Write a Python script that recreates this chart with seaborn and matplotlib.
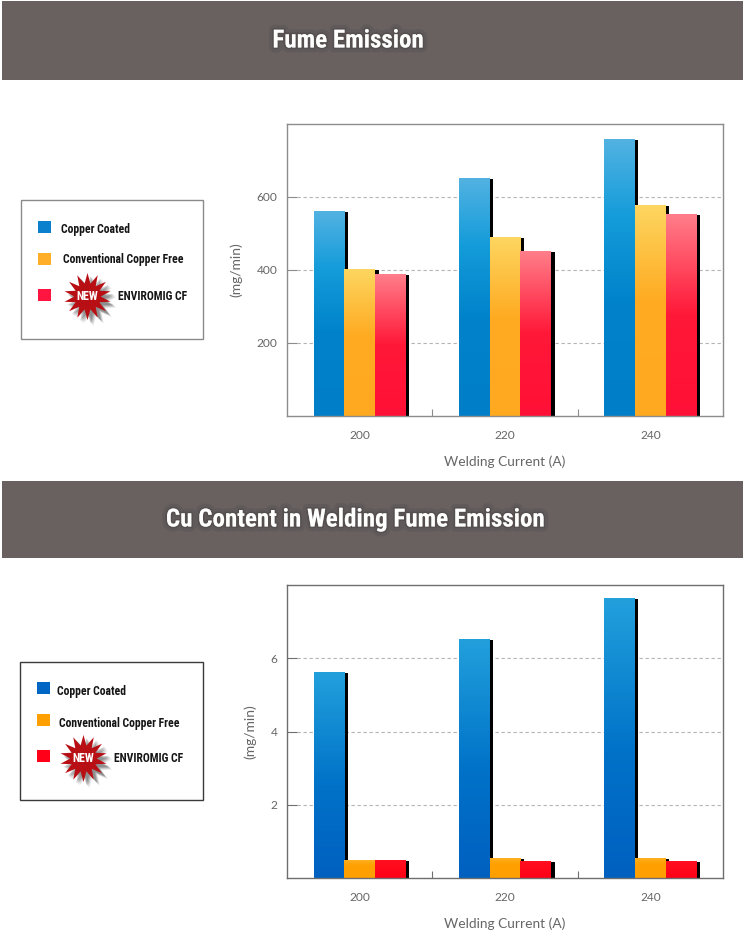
import numpy as np
import pandas as pd
import matplotlib
matplotlib.use("Agg")
import matplotlib.pyplot as plt
import matplotlib.patheffects as pe
from matplotlib.colors import LinearSegmentedColormap
from matplotlib.patches import Rectangle
from matplotlib.path import Path
import seaborn as sns

currents = ["200", "220", "240"]
series = ["Copper Coated", "Conventional Copper Free", "ENVIROMIG CF"]
fume_copper = [561, 650, 757]
fume_conventional = [402, 489, 577]
fume_enviromig = [387, 452, 553]
cu_copper = [5.62, 6.5, 7.62]
cu_conventional = [0.48, 0.52, 0.52]
cu_enviromig = [0.48, 0.46, 0.46]
fume_ticks = [200, 400, 600]
cu_ticks = [2, 4, 6]
titles = ["Fume Emission", "Cu Content in Welding Fume Emission"]

W, H = 745, 944
NARROW = ["Liberation Sans Narrow", "Roboto Condensed", "Open Sans", "DejaVu Sans"]
LIGHT = ["Lato", "DejaVu Sans"]
sns.set_theme(style="white")
plt.rcParams["font.family"] = LIGHT
fig = plt.figure(figsize=(W / 100, H / 100), dpi=100, facecolor="white")
GREY = "#666666"

grad1 = [
    [(0, "#52b2e2"), (.28, "#149cda"), (.6, "#0082ca"), (1, "#007fc8")],
    [(0, "#fdd660"), (.45, "#ffab22"), (1, "#ffa920")],
    [(0, "#ff7e8a"), (.5, "#ff1838"), (1, "#ff1036")],
]
grad2 = [
    [(0, "#22a0dc"), (.55, "#0072c8"), (1, "#0060c0")],
    [(0, "#ffb020"), (.3, "#ffa000"), (1, "#ffa000")],
    [(0, "#ff1020"), (1, "#ff0016")],
]


def pixel_axes(l, t, r, b):
    return fig.add_axes([l / W, 1 - b / H, (r - l) / W, (b - t) / H])


def chart(rect, values, ymax, ticks, grads, edge, ylab_x):
    ax = pixel_axes(*rect)
    df = pd.DataFrame({
        "current": np.tile(currents, 3),
        "series": np.repeat(series, 3),
        "value": np.concatenate(values),
    })
    sns.barplot(data=df, x="current", y="value", hue="series", ax=ax,
                order=currents, hue_order=series, width=.635, gap=0,
                legend=False, saturation=1, errorbar=None, zorder=1)
    ax.set_xlim(-.5, 2.5)
    ax.set_ylim(0, ymax)
    px = (rect[2] - rect[0]) / 3
    py = (rect[3] - rect[1]) / ymax
    bars = [p for p in ax.patches if p.get_height() > 0]
    for i, p in enumerate(bars):
        x, w, h = p.get_x(), p.get_width(), p.get_height()
        k = i // 3
        ax.add_patch(Rectangle((x + w - 1 / px, 0), 4.5 / px, h - .5 / py,
                               fc="black", ec="none", zorder=2 + k * .1))
        cmap = LinearSegmentedColormap.from_list("g", grads[k])
        ax.imshow(np.linspace(0, 1, 256)[:, None], cmap=cmap, aspect="auto",
                  extent=(x, x + w, 0, h), origin="upper",
                  zorder=2.05 + k * .1, interpolation="bilinear")
    ax.set_xlim(-.5, 2.5)
    ax.set_ylim(0, ymax)
    for y in ticks:
        ax.plot([-.5 + 10 / px, 2.5], [y, y], color="#b4b4b4", lw=.8,
                dashes=(3, 2.4), zorder=.5)
    for s in ax.spines.values():
        s.set_color(edge)
        s.set_linewidth(1.0)
        s.set_zorder(5)
    ax.set_yticks(ticks)
    ax.set_xticks(range(3), currents)
    ax.tick_params(axis="y", direction="in", length=7, width=.8, color=edge,
                   labelcolor=GREY, labelsize=8.6, pad=7, left=True)
    ax.tick_params(axis="x", length=0, labelcolor=GREY, labelsize=8.6, pad=10)
    ax.set_xticks([.5, 1.5], minor=True)
    ax.tick_params(axis="x", which="minor", direction="in", length=5, width=.8,
                   color=edge, bottom=True)
    ax.set_xlabel("Welding Current (A)", color=GREY, fontsize=9.9, labelpad=0)
    ax.xaxis.set_label_coords(.5, -(39.5 / (rect[3] - rect[1])), transform=ax.transAxes)
    ax.set_ylabel("(mg/min)", color=GREY, fontsize=10)
    ax.yaxis.set_label_coords((ylab_x - rect[0]) / (rect[2] - rect[0]), .5,
                              transform=ax.transAxes)
    return ax


chart((287, 124, 723, 416), [fume_copper, fume_conventional, fume_enviromig],
      800, fume_ticks, grad1, "#8c8c8c", 242)
chart((287, 585, 723, 878), [cu_copper, cu_conventional, cu_enviromig],
      8, cu_ticks, grad2, "#6e6e6e", 256)

# overlay in pixel coordinates: headers and legend panels
ov = fig.add_axes([0, 0, 1, 1], zorder=10)
ov.set_xlim(0, W)
ov.set_ylim(H, 0)
ov.axis("off")
ov.patch.set_alpha(0)

HEAD = "#686160"
glow = [pe.withStroke(linewidth=7, foreground="#5c5556", alpha=.55),
        pe.withStroke(linewidth=2.5, foreground="#4c4647", alpha=.5)]
for (t, b, cx, cy, label) in [(1, 80, 348, 40.5, titles[0]), (481, 558, 355, 519.5, titles[1])]:
    ov.add_patch(Rectangle((2, t), 741, b - t, fc=HEAD, ec="none"))
    ov.text(cx, cy, label, color="white", fontsize=18, fontweight="bold",
            family=NARROW, ha="center", va="center", path_effects=glow)

star = Path.unit_regular_star(14, innerCircle=.56)


def legend(box, edge, colors, sq_x, sq_y, tx, sc, sy):
    l, t, r, b = box
    ov.add_patch(Rectangle((l, t), r - l, b - t, fc="white", ec=edge, lw=1.0))
    for c, y in zip(colors, sq_y):
        ov.add_patch(Rectangle((sq_x, y), 13, 12, fc=c, ec="none"))
    for name, x, y in zip(series, tx, sy):
        ov.text(x, y + 1, name, fontsize=8.4, fontweight="bold", family=NARROW,
                color="#151515", ha="left", va="center")
    for d, a in [(6, .12), (5, .2), (4, .3), (3, .3)]:
        ov.scatter([sc[0] + d], [sc[1] + d], marker=star, s=1150, c="#555555",
                   alpha=a, linewidths=0, zorder=3)
    ov.scatter([sc[0]], [sc[1]], marker=star, s=1150, c="#b80f14", linewidths=0, zorder=4)
    ov.text(sc[0], sc[1] + 1, "NEW", fontsize=8.6, fontweight="bold", family=NARROW,
            color="white", ha="center", va="center", zorder=5)


legend((21, 200, 203, 339), "#8a8a8a", ["#0b80cc", "#ffae2a", "#ff1540"], 38,
       [221, 253, 289], [61, 63, 118], (87, 296), [228, 259, 295])
legend((20, 662, 203, 800), "#3a3a3a", ["#0066c4", "#ffa000", "#ff0018"], 37,
       [682, 714, 750], [57, 59, 114], (83, 758), [690, 722, 757])

fig.savefig("out.png", dpi=100, facecolor="white")
